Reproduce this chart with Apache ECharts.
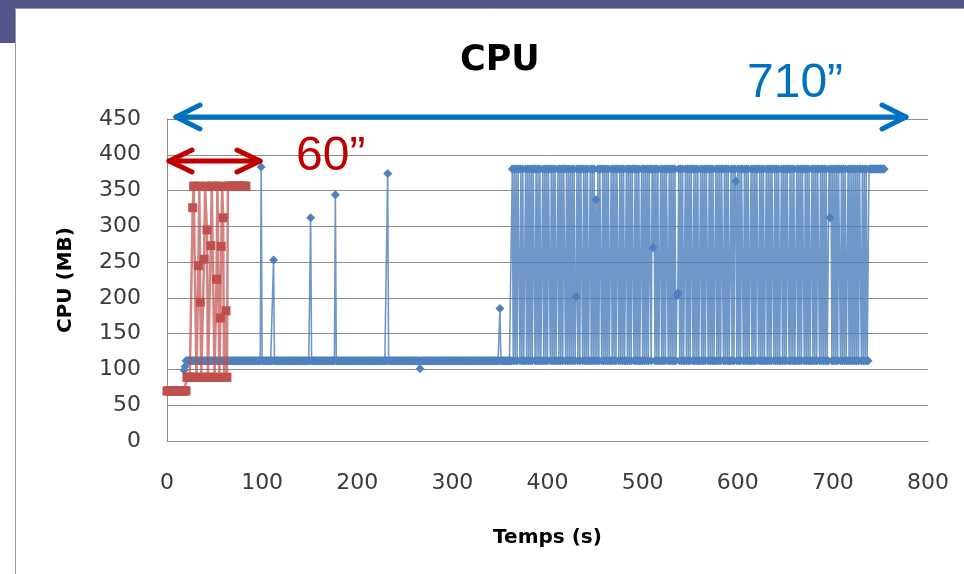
<!DOCTYPE html>
<html>
<head>
<meta charset="utf-8">
<title>CPU</title>
<script src="https://cdn.jsdelivr.net/npm/echarts@6/dist/echarts.min.js"></script>
<style>
  html, body { margin: 0; padding: 0; background: #ffffff; }
  #chart { width: 964px; height: 574px; }
</style>
</head>
<body>
<div id="chart"></div>
<script>
// Memory samples of the long run (blue), one sample per second starting at blueStart.
const blueStart = 18;
const blueCpu = [
  // t = 18-19
  99, 104,
  // t = 20-98
  112,112,112,112,112,112,112,112,112,112,
  112,112,112,112,112,112,112,112,112,112,
  112,112,112,112,112,112,112,112,112,112,
  112,112,112,112,112,112,112,112,112,112,
  112,112,112,112,112,112,112,112,112,112,
  112,112,112,112,112,112,112,112,112,112,
  112,112,112,112,112,112,112,112,112,112,
  112,112,112,112,112,112,112,112,112,
  // t = 99
  383,
  // t = 100-111
  112,112,112,112,112,112,112,112,112,112,
  112,112,
  // t = 112
  253,
  // t = 113-150
  112,112,112,112,112,112,112,112,112,112,
  112,112,112,112,112,112,112,112,112,112,
  112,112,112,112,112,112,112,112,112,112,
  112,112,112,112,112,112,112,112,
  // t = 151
  312,
  // t = 152-176
  112,112,112,112,112,112,112,112,112,112,
  112,112,112,112,112,112,112,112,112,112,
  112,112,112,112,112,
  // t = 177
  344,
  // t = 178-231
  112,112,112,112,112,112,112,112,112,112,
  112,112,112,112,112,112,112,112,112,112,
  112,112,112,112,112,112,112,112,112,112,
  112,112,112,112,112,112,112,112,112,112,
  112,112,112,112,112,112,112,112,112,112,
  112,112,112,112,
  // t = 232
  374,
  // t = 233-265
  112,112,112,112,112,112,112,112,112,112,
  112,112,112,112,112,112,112,112,112,112,
  112,112,112,112,112,112,112,112,112,112,
  112,112,112,
  // t = 266
  101,
  // t = 267-349
  112,112,112,112,112,112,112,112,112,112,
  112,112,112,112,112,112,112,112,112,112,
  112,112,112,112,112,112,112,112,112,112,
  112,112,112,112,112,112,112,112,112,112,
  112,112,112,112,112,112,112,112,112,112,
  112,112,112,112,112,112,112,112,112,112,
  112,112,112,112,112,112,112,112,112,112,
  112,112,112,112,112,112,112,112,112,112,
  112,112,112,
  // t = 350
  185,
  // t = 351-362
  112,112,112,112,112,112,112,112,112,112,
  112,112,
  // t = 363-737 : busy phase
  380,112,380,112,380,112,380,380,112,380,112,380,112,112,380,112,380,112,380,112,
  380,112,380,380,112,380,112,380,112,380,112,112,380,112,380,112,380,112,380,380,
  112,380,112,380,112,380,112,112,380,112,380,112,380,112,380,380,112,380,112,380,
  112,380,112,380,112,380,112,202,380,112,380,112,380,380,112,380,112,380,112,380,
  112,112,380,112,380,112,380,112,337,112,380,112,380,380,112,380,112,380,112,380,
  112,380,112,112,380,112,380,112,380,112,380,380,112,380,112,380,112,380,112,112,
  380,112,380,112,380,112,380,380,112,380,112,380,112,380,112,112,380,112,380,112,
  380,112,380,112,380,380,112,380,270,380,112,380,112,380,112,112,380,112,380,112,
  380,112,380,380,112,380,112,380,112,380,112,380,112,203,207,380,112,380,112,380,
  112,112,380,112,380,112,380,112,380,380,112,380,112,380,112,380,112,112,380,112,
  380,112,380,112,380,380,112,380,112,380,112,380,112,112,380,112,380,112,380,112,
  380,380,112,380,112,380,112,380,112,112,380,112,380,112,380,363,112,380,112,380,
  112,380,380,112,380,112,380,112,380,112,112,380,112,380,112,380,112,380,380,112,
  380,112,380,112,380,112,112,380,112,380,112,380,112,380,380,112,380,112,380,112,
  380,112,112,380,112,380,112,380,112,380,380,112,380,112,380,112,380,112,112,380,
  112,380,112,380,112,380,380,112,380,112,380,112,380,112,112,380,112,380,112,380,
  112,380,380,112,380,112,380,112,380,112,380,112,112,380,312,380,112,380,112,380,
  112,380,112,380,380,112,380,112,380,112,380,112,112,380,112,380,112,380,112,380,
  112,380,112,380,112,380,380,112,380,112,380,112,380,112,112,
  // t = 738-754
  380,380,380,380,380,380,380,380,380,380,
  380,380,380,380,380,380,380
];

// Memory samples of the short run (red), one sample per second starting at redStart.
const redStart = 0;
const redCpu = [
  // t = 0-20
  70,70,70,70,70,70,70,70,70,70,
  70,70,70,70,70,70,70,70,70,70,
  70,
  // t = 21-26
  89,89,89,89,89,89,
  // t = 27-64
  326,356,356,356,89,89,245,356,194,89,
  89,89,254,356,356,295,89,89,89,273,
  356,356,356,89,89,226,356,356,89,172,
  272,356,312,89,89,182,89,356,
  // t = 65-83
  356,356,356,356,356,356,356,356,356,356,
  356,356,356,356,356,356,356,356,356
];

const chartTitle = 'CPU';
const xAxisName = 'Temps (s)';
const yAxisName = 'CPU (MB)';
const longRunLabel = '710\u201D';
const shortRunLabel = '60\u201D';

const BLUE = '#4F81BD';
const RED = '#C0504D';
const TICK_FONT = 'DejaVu Sans';

function toPoints(start, values) {
  return values.map(function (v, i) { return [start + i, v]; });
}

const chart = echarts.init(document.getElementById('chart'), null, { renderer: 'canvas' });

function arrow(points, color) {
  return {
    type: 'polyline',
    silent: true,
    z: 100,
    shape: { points: points },
    style: { stroke: color, lineWidth: 5, lineCap: 'round', lineJoin: 'round', fill: null }
  };
}

chart.setOption({
  animation: false,
  backgroundColor: '#ffffff',
  title: {
    text: chartTitle,
    left: 455,
    top: 38,
    textStyle: { fontFamily: 'DejaVu Sans', fontWeight: 'bold', fontSize: 35, color: '#000000' }
  },
  grid: { left: 167, right: 36, top: 119, bottom: 133, containLabel: false },
  xAxis: {
    type: 'value',
    min: 0,
    max: 800,
    interval: 100,
    name: xAxisName,
    nameLocation: 'middle',
    nameGap: 87,
    nameTextStyle: { fontFamily: 'DejaVu Sans', fontWeight: 'bold', fontSize: 20, color: '#000000' },
    axisLine: { show: true, lineStyle: { color: '#8c8c8c', width: 1 } },
    axisTick: { show: false },
    splitLine: { show: false },
    axisLabel: { margin: 31, fontFamily: TICK_FONT, fontSize: 22, color: '#3a3a3a' }
  },
  yAxis: {
    type: 'value',
    min: 0,
    max: 450,
    interval: 50,
    name: yAxisName,
    nameLocation: 'middle',
    nameRotate: 90,
    nameGap: 91,
    nameTextStyle: { fontFamily: 'DejaVu Sans', fontWeight: 'bold', fontSize: 20, color: '#000000' },
    axisLine: { show: true, lineStyle: { color: '#8c8c8c', width: 1 } },
    axisTick: { show: false },
    splitLine: { show: true, lineStyle: { color: '#8c8c8c', width: 1 } },
    axisLabel: { margin: 26, fontFamily: TICK_FONT, fontSize: 22, color: '#3a3a3a' }
  },
  series: [
    {
      name: 'long run',
      type: 'line',
      data: toPoints(blueStart, blueCpu),
      showSymbol: true,
      showAllSymbol: true,
      symbol: 'diamond',
      symbolSize: 9,
      itemStyle: { color: BLUE },
      lineStyle: { color: BLUE, width: 1.6, opacity: 0.82 },
      clip: false,
      z: 2
    },
    {
      name: 'short run',
      type: 'line',
      data: toPoints(redStart, redCpu),
      showSymbol: true,
      showAllSymbol: true,
      symbol: 'rect',
      symbolSize: 9,
      itemStyle: { color: RED },
      lineStyle: { color: RED, width: 2.5, opacity: 0.7 },
      clip: false,
      z: 3
    }
  ],
  graphic: [
    // slide frame
    { type: 'rect', silent: true, z: -10, shape: { x: 0, y: 0, width: 964, height: 8 }, style: { fill: '#55558B' } },
    { type: 'rect', silent: true, z: -10, shape: { x: 0, y: 0, width: 15, height: 43 }, style: { fill: '#55558B' } },
    { type: 'polyline', silent: true, z: -9, shape: { points: [[15.5, 574], [15.5, 8.5], [964, 8.5]] }, style: { stroke: '#9a9a9a', lineWidth: 1, fill: null } },
    // span arrows
    arrow([[176, 117], [906, 117]], '#0070C0'),
    arrow([[200, 105], [176, 117], [200, 129]], '#0070C0'),
    arrow([[882, 105], [906, 117], [882, 129]], '#0070C0'),
    arrow([[169, 161], [260, 161]], '#C00000'),
    arrow([[192, 150], [169, 161], [192, 172]], '#C00000'),
    arrow([[237, 150], [260, 161], [237, 172]], '#C00000'),
    {
      type: 'text', silent: true, z: 100,
      style: { text: longRunLabel, x: 747, y: 84, fill: '#0070C0', font: '48px "Liberation Sans"', textAlign: 'left', textVerticalAlign: 'middle' }
    },
    {
      type: 'text', silent: true, z: 100,
      style: { text: shortRunLabel, x: 296, y: 157, fill: '#C00000', font: '48px "Liberation Sans"', textAlign: 'left', textVerticalAlign: 'middle' }
    }
  ]
});
</script>
</body>
</html>
